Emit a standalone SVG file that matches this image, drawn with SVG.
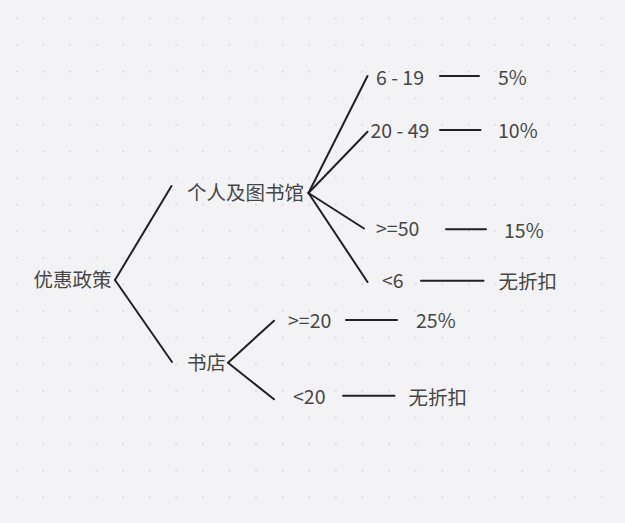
<svg xmlns="http://www.w3.org/2000/svg" width="625" height="523" viewBox="0 0 625 523">
<defs>
<pattern id="dots" x="0" y="0" width="26.6" height="26.6" patternUnits="userSpaceOnUse">
<rect x="16" y="17.8" width="1.3" height="1.3" fill="#c4c4c8"/>
</pattern>
<style>
text{font-family:"Noto Sans CJK SC","Noto Sans",sans-serif;font-size:19.5px;fill:#474747}
.c line{stroke:#222;stroke-width:2;stroke-linecap:round}
</style>
</defs>
<rect width="625" height="523" fill="#f3f3f5"/>
<rect width="625" height="523" fill="url(#dots)"/>
<g class="c" id="connectors">
<line x1="115" y1="280" x2="171.5" y2="186"/>
<line x1="115" y1="280" x2="172" y2="362"/>
<line x1="308.5" y1="193" x2="367.5" y2="76"/>
<line x1="308.5" y1="193" x2="367.5" y2="131.7"/>
<line x1="308.5" y1="193" x2="364" y2="228.5"/>
<line x1="308.5" y1="193" x2="367.5" y2="282"/>
<line x1="228" y1="362.7" x2="274" y2="320.7"/>
<line x1="228" y1="362.7" x2="274" y2="399.3"/>
<line x1="440" y1="76" x2="479" y2="76"/>
<line x1="440" y1="130" x2="480.5" y2="130"/>
<line x1="446" y1="229.3" x2="486" y2="229.3"/>
<line x1="421" y1="280.7" x2="483.5" y2="280.7"/>
<line x1="346" y1="320" x2="397" y2="320"/>
<line x1="343" y1="395.7" x2="394.5" y2="395.7"/>
</g>
<g id="root"><text x="33.5" y="287">优惠政策</text></g>
<g id="individual"><text x="187" y="200">个人及图书馆</text></g>
<g id="bookstore"><text x="187" y="369.5">书店</text></g>
<g id="r6-19"><text x="376" y="85">6 - 19</text></g>
<g id="r20-49"><text x="370.5" y="138.3">20 - 49</text></g>
<g id="r50"><text x="376" y="236">&gt;=50</text></g>
<g id="rlt6"><text x="382" y="288.3">&lt;6</text></g>
<g id="bge20"><text x="288" y="327.7">&gt;=20</text></g>
<g id="blt20"><text x="293" y="404">&lt;20</text></g>
<g id="d5"><text x="498" y="85">5%</text></g>
<g id="d10"><text x="498" y="138.3">10%</text></g>
<g id="d15"><text x="504" y="237.5">15%</text></g>
<g id="dnone1"><text x="498.5" y="289">无折扣</text></g>
<g id="d25"><text x="416" y="328.3">25%</text></g>
<g id="dnone2"><text x="408.5" y="405">无折扣</text></g>
</svg>
